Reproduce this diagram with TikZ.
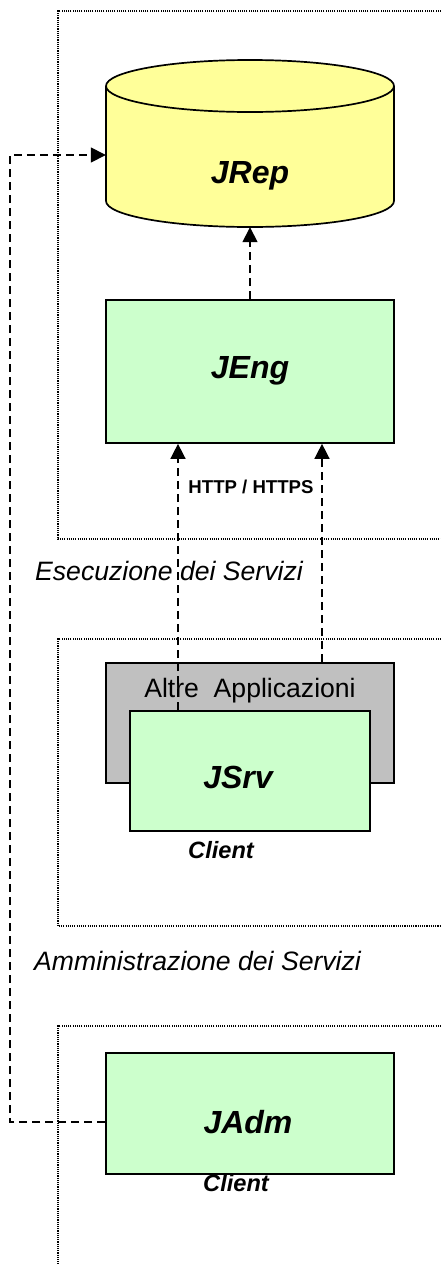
\documentclass[tikz,border=0pt]{standalone}
\usepackage{fontspec}
\setmainfont{Liberation Sans}
\usetikzlibrary{arrows.meta}
\definecolor{repyellow}{HTML}{FFFF99}
\definecolor{boxgreen}{HTML}{CCFFCC}
\definecolor{appgray}{HTML}{C0C0C0}
\tikzset{
  zone/.style={line width=1.2pt,dash pattern=on 1.1pt off 1.1pt},
  box/.style={rectangle,draw=black,line width=1.7pt,inner sep=0pt},
  link/.style={line width=1.5pt,dash pattern=on 8pt off 5pt,-{Triangle[length=15pt,width=15pt]}},
  bigname/.style={font=\fontsize{32}{36}\selectfont\bfseries\itshape,inner sep=0pt},
  zonename/.style={font=\fontsize{26.6}{30}\selectfont\itshape,inner sep=0pt,anchor=west},
  clientname/.style={font=\fontsize{23.6}{28}\selectfont\bfseries\itshape,inner sep=0pt},
}
\begin{document}
\begin{tikzpicture}[x=1pt,y=-1pt]
\useasboundingbox (0,0) rectangle (441,1264);
% zones
\coordinate (z1a) at (441,11);
\coordinate (z1b) at (58,11);
\coordinate (z1c) at (58,539);
\coordinate (z1d) at (441,539);
\coordinate (z2a) at (441,639);
\coordinate (z2b) at (58,639);
\coordinate (z2c) at (58,926);
\coordinate (z2d) at (441,926);
\coordinate (z3a) at (441,1026);
\coordinate (z3b) at (58,1026);
\coordinate (z3c) at (58,1264);
\draw[zone] (z1a) -- (z1b) -- (z1c) -- (z1d);
\draw[zone] (z2a) -- (z2b) -- (z2c) -- (z2d);
\draw[zone] (z3a) -- (z3b) -- (z3c);
% repository drum
\draw[fill=repyellow,line width=1.7pt] (106,86) -- (106,201)
  arc[start angle=180,end angle=360,x radius=144pt,y radius=26pt] -- (394,86)
  arc[start angle=0,end angle=180,x radius=144pt,y radius=26pt] -- cycle;
\draw[line width=1.7pt] (106,86) arc[start angle=180,end angle=360,x radius=144pt,y radius=26pt];
\node (jrep) [rectangle,inner sep=0pt,minimum width=288pt,minimum height=167pt] at (250,143.5) {};
%
\node (jeng) [box,fill=boxgreen,minimum width=288pt,minimum height=143pt] at (250,371.5) {};
\node (altre) [box,fill=appgray,minimum width=288pt,minimum height=120pt] at (250,723) {};
\node (jsrv) [box,fill=boxgreen,minimum width=240pt,minimum height=120pt] at (250,771) {};
\node (jadm) [box,fill=boxgreen,minimum width=288pt,minimum height=121pt] at (250,1113.5) {};
%
\coordinate (bendlow) at (10,1122);
\coordinate (bendhigh) at (10,155);
\path[link] (jeng.north) edge (jrep.south);
\path[link] ([xshift=-72pt]jsrv.north) edge ([xshift=-72pt]jeng.south);
\path[link] ([xshift=72pt]altre.north) edge ([xshift=72pt]jeng.south);
\draw[link] ([yshift=-8.5pt]jadm.west) -- (bendlow) -- (bendhigh) -- ([yshift=-11.5pt]jrep.west);
%
\node (tjrep) [bigname] at (250,176) {JRep};
\node (tjeng) [bigname] at (250,371) {JEng};
\node (tjsrv) [bigname] at (238,777) {JSrv};
\node (tjadm) [bigname] at (248,1122) {JAdm};
\node (taltre) [font=\fontsize{26.6}{30}\selectfont,inner sep=0pt] at (250,691) {Altre\ \ Applicazioni};
\node (thttp) [font=\fontsize{18.6}{22}\selectfont\bfseries,inner sep=0pt] at (251,487) {HTTP / HTTPS};
\node (tese) [zonename] at (35,571) {Esecuzione dei Servizi};
\node (tamm) [zonename] at (34,961) {Amministrazione dei Servizi};
\node (tcl1) [clientname] at (221,850) {Client};
\node (tcl2) [clientname] at (236,1183) {Client};
\end{tikzpicture}
\end{document}
